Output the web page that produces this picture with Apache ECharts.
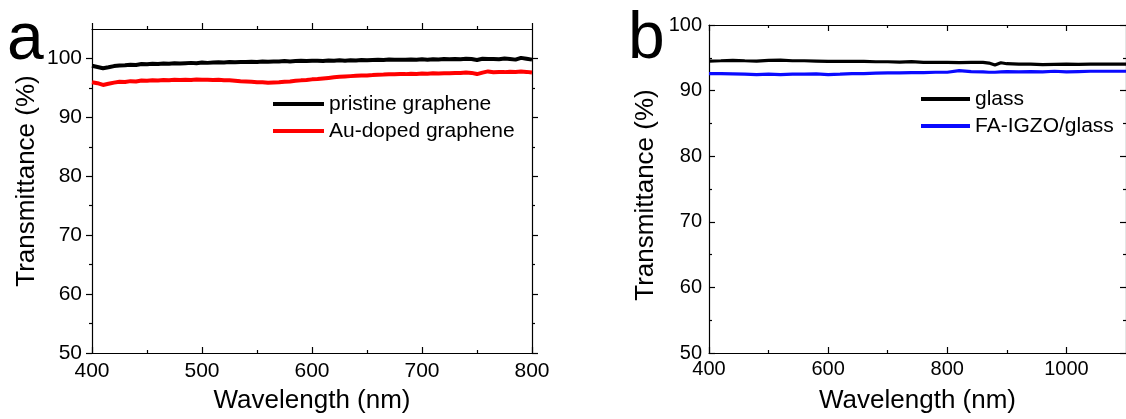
<!DOCTYPE html>
<html>
<head>
<meta charset="utf-8">
<script src="https://cdn.jsdelivr.net/npm/echarts@6/dist/echarts.min.js"></script>
<style>
  html, body { margin: 0; padding: 0; background: #fff; }
  #chart { width: 1126px; height: 419px; }
</style>
</head>
<body>
<div id="chart"></div>
<script>
// panel a: graphene films, 400-800 nm
var wlA = [400, 405, 410, 415, 420, 425, 430, 435, 440, 445, 450, 455, 460, 465, 470, 475, 480, 485, 490, 495,
  500, 505, 510, 515, 520, 525, 530, 535, 540, 545, 550, 555, 560, 565, 570, 575, 580, 585, 590, 595,
  600, 605, 610, 615, 620, 625, 630, 635, 640, 645, 650, 655, 660, 665, 670, 675, 680, 685, 690, 695,
  700, 705, 710, 715, 720, 725, 730, 735, 740, 745, 750, 755, 760, 765, 770, 775, 780, 785, 790, 795, 800]
var pristine = [98.75, 98.55, 98.35, 98.5, 98.7, 98.8, 98.85, 98.95, 98.9, 99.05, 99.0, 99.1, 99.05, 99.15, 99.1, 99.2, 99.15, 99.2, 99.25, 99.2,
  99.3, 99.25, 99.3, 99.35, 99.3, 99.4, 99.35, 99.4, 99.38, 99.45, 99.4, 99.5, 99.45, 99.5, 99.48, 99.55, 99.5, 99.55, 99.6, 99.55,
  99.6, 99.62, 99.58, 99.65, 99.6, 99.68, 99.62, 99.7, 99.65, 99.72, 99.7, 99.75, 99.78, 99.75, 99.82, 99.78, 99.8, 99.76, 99.82, 99.8,
  99.85, 99.8, 99.88, 99.84, 99.9, 99.86, 99.92, 99.88, 99.95, 99.9, 99.75, 99.95, 99.9, 99.92, 99.88, 99.98, 99.9, 99.8, 100.1, 99.95, 99.8]
var auDoped = [95.95, 95.8, 95.5, 95.7, 95.9, 96.05, 96.0, 96.15, 96.1, 96.25, 96.2, 96.3, 96.25, 96.35, 96.3, 96.38, 96.33, 96.4, 96.35, 96.42,
  96.38, 96.4, 96.36, 96.38, 96.3, 96.28, 96.22, 96.15, 96.1, 96.05, 95.98, 95.95, 95.88, 95.92, 95.95, 96.05, 96.1, 96.2, 96.28, 96.35,
  96.45, 96.5, 96.6, 96.7, 96.8, 96.88, 96.95, 97.0, 97.05, 97.1, 97.12, 97.18, 97.25, 97.28, 97.32, 97.3, 97.36, 97.34, 97.4, 97.38,
  97.45, 97.42, 97.48, 97.45, 97.5, 97.48, 97.55, 97.52, 97.6, 97.55, 97.35, 97.6, 97.8, 97.65, 97.7, 97.68, 97.75, 97.7, 97.8, 97.72, 97.6]

// panel b: glass substrates, 400-1100 nm
var wlB = [400, 420, 440, 460, 480, 500, 520, 540, 560, 580, 600, 620, 640, 660, 680, 700, 720, 740, 760, 780,
  800, 820, 840, 860, 870, 880, 890, 900, 920, 940, 960, 980, 1000, 1020, 1040, 1060, 1080, 1100]
var glass = [94.5, 94.55, 94.62, 94.55, 94.5, 94.6, 94.65, 94.55, 94.55, 94.5, 94.45, 94.45, 94.45, 94.45, 94.4, 94.4, 94.35, 94.42, 94.3, 94.3,
  94.3, 94.25, 94.3, 94.3, 94.2, 93.9, 94.25, 94.1, 94.05, 94.05, 93.95, 94.0, 94.05, 94.0, 94.05, 94.05, 94.05, 94.05]
var faIgzo = [92.6, 92.6, 92.55, 92.5, 92.45, 92.5, 92.45, 92.5, 92.5, 92.55, 92.45, 92.5, 92.6, 92.6, 92.65, 92.7, 92.7, 92.75, 92.75, 92.8,
  92.8, 93.05, 92.9, 92.85, 92.8, 92.8, 92.85, 92.9, 92.85, 92.9, 92.85, 92.95, 92.85, 92.9, 92.95, 92.95, 92.95, 92.95]

var yMajor = [50, 60, 70, 80, 90, 100]
var yMinor = [55, 65, 75, 85, 95]
var xMajorA = [400, 500, 600, 700, 800]
var xMinorA = [450, 550, 650, 750]
var xMajorB = [400, 600, 800, 1000]
var xMinorB = [500, 700, 900]

var FONT = "'Liberation Sans', Arial, sans-serif"

function pairs(xs, ys) {
  return xs.map(function (x, i) { return [x, ys[i]] })
}

// one axis = a "major" axis (line, major ticks, labels) + a "minor" axis (short ticks only)
function axisPair(opts) {
  var base = {
    type: 'value',
    gridIndex: opts.grid,
    position: opts.position,
    min: opts.min,
    max: opts.max,
    splitLine: { show: false }
  }
  var major = Object.assign({}, base, {
    axisLine: { show: true, onZero: false, lineStyle: { color: '#000', width: 1.2 } },
    axisTick: { show: true, inside: opts.inside, length: 6, customValues: opts.majors,
      lineStyle: { color: '#000', width: 1.2 } },
    axisLabel: opts.label ? {
      show: true, customValues: opts.majors, color: '#000', fontFamily: FONT,
      fontSize: opts.fontSize, margin: opts.margin,
      formatter: function (v) { return String(v) }
    } : { show: false }
  })
  if (opts.name) {
    major.name = opts.name
    major.nameLocation = 'middle'
    major.nameGap = opts.nameGap
    major.nameTextStyle = { color: '#000', fontFamily: FONT, fontSize: 26 }
  }
  var minor = Object.assign({}, base, {
    axisLine: { show: false, onZero: false },
    axisTick: { show: true, inside: opts.inside, length: 3, customValues: opts.minors,
      lineStyle: { color: '#000', width: 1.2 } },
    axisLabel: { show: false }
  })
  return [major, minor]
}

var xAxes = [].concat(
  axisPair({ grid: 0, position: 'bottom', min: 400, max: 800, majors: xMajorA, minors: xMinorA, inside: true,
    label: true, fontSize: 21, margin: 8, name: 'Wavelength (nm)', nameGap: 35 }),
  axisPair({ grid: 0, position: 'top', min: 400, max: 800, majors: xMajorA, minors: xMinorA, inside: false }),
  axisPair({ grid: 1, position: 'bottom', min: 400, max: 1100, majors: xMajorB, minors: xMinorB, inside: true,
    label: true, fontSize: 20, margin: 6, name: 'Wavelength (nm)', nameGap: 35 }),
  axisPair({ grid: 1, position: 'top', min: 400, max: 1100, majors: xMajorB, minors: xMinorB, inside: true })
)
var yAxes = [].concat(
  axisPair({ grid: 0, position: 'left', min: 50, max: 105, majors: yMajor, minors: yMinor, inside: false,
    label: true, fontSize: 21, margin: 10 }),
  axisPair({ grid: 0, position: 'right', min: 50, max: 105, majors: yMajor, minors: yMinor, inside: false }),
  axisPair({ grid: 1, position: 'left', min: 50, max: 100, majors: yMajor, minors: yMinor, inside: true,
    label: true, fontSize: 20, margin: 7 }),
  axisPair({ grid: 1, position: 'right', min: 50, max: 100, majors: yMajor, minors: yMinor, inside: true })
)

function line(name, xi, data, color, width) {
  return {
    name: name, type: 'line', xAxisIndex: xi, yAxisIndex: xi, data: data,
    showSymbol: false, symbol: 'none', animation: false,
    lineStyle: { color: color, width: width }, itemStyle: { color: color }
  }
}

function yTitle(x, y) {
  return {
    type: 'text', x: x, y: y, rotation: Math.PI / 2,
    style: { text: 'Transmittance (%)', font: '26px ' + FONT, fill: '#000', align: 'center', verticalAlign: 'middle' }
  }
}

var legendText = { color: '#000', fontFamily: FONT, fontSize: 21, lineHeight: 22 }

var option = {
  animation: false,
  backgroundColor: '#fff',
  grid: [
    { left: 92, top: 29, width: 440, height: 324 },
    { left: 709, top: 25, width: 425, height: 328 }
  ],
  xAxis: xAxes,
  yAxis: yAxes,
  legend: [
    { data: ['pristine graphene', 'Au-doped graphene'], orient: 'vertical', left: 273, top: 93,
      padding: 0, itemGap: 5, itemWidth: 51, itemHeight: 4, icon: 'rect', textStyle: legendText },
    { data: ['glass', 'FA-IGZO/glass'], orient: 'vertical', left: 921, top: 88,
      padding: 0, itemGap: 5, itemWidth: 49, itemHeight: 4, icon: 'rect', textStyle: legendText }
  ],
  graphic: [
    { type: 'text', left: 7, top: 8, style: { text: 'a', font: '66px ' + FONT, fill: '#000' } },
    { type: 'text', left: 628, top: 7, style: { text: 'b', font: '66px ' + FONT, fill: '#000' } },
    yTitle(27, 181),
    yTitle(646, 195)
  ],
  series: [
    line('pristine graphene', 0, pairs(wlA, pristine), '#000000', 4),
    line('Au-doped graphene', 0, pairs(wlA, auDoped), '#ff0000', 4),
    line('glass', 4, pairs(wlB, glass), '#000000', 3.2),
    line('FA-IGZO/glass', 4, pairs(wlB, faIgzo), '#0a0aff', 3.2)
  ]
}

var chart = echarts.init(document.getElementById('chart'))
chart.setOption(option)
window.addEventListener('resize', function () { chart.resize() })
</script>
</body>
</html>
